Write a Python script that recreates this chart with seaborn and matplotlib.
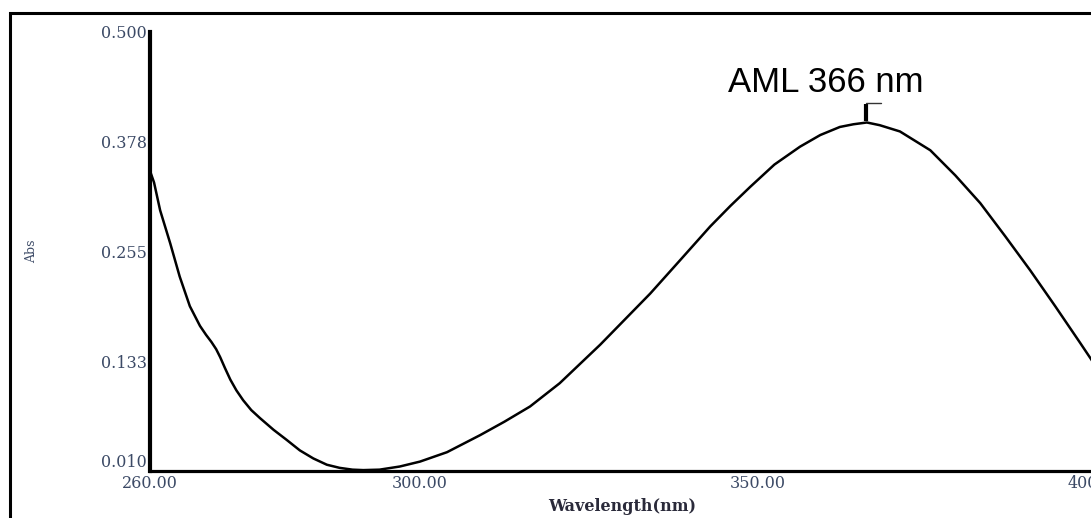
import numpy as np
import pandas as pd
import seaborn as sns
import matplotlib as mpl
from matplotlib import pyplot as plt
from matplotlib.patches import Rectangle

# absorbance spectrum
wavelength = [260.0, 260.6, 261.5, 263.0, 264.4, 265.9, 267.4, 268.3, 269.1, 269.8,
              270.4, 271.1, 271.9, 272.8, 273.8, 275.0, 276.3, 278.3, 280.2, 282.2,
              284.2, 286.2, 288.1, 290.0, 291.6, 294.0, 297.0, 300.0, 304.0, 308.9,
              312.5, 316.3, 320.7, 326.7, 334.1, 338.5, 343.0, 346.0, 348.9, 352.5,
              356.3, 359.3, 362.2, 364.2, 366.2, 368.1, 371.1, 375.6, 379.3, 383.0,
              386.7, 390.4, 394.1, 397.8, 399.4, 400.0]
absorbance = [0.345, 0.332, 0.301, 0.264, 0.227, 0.194, 0.172, 0.162, 0.154, 0.146,
              0.137, 0.125, 0.112, 0.100, 0.089, 0.078, 0.069, 0.056, 0.045, 0.033,
              0.024, 0.017, 0.0135, 0.0115, 0.0110, 0.0115, 0.015, 0.0205, 0.031, 0.050,
              0.065, 0.082, 0.108, 0.151, 0.208, 0.245, 0.283, 0.306, 0.327, 0.352,
              0.372, 0.385, 0.394, 0.397, 0.399, 0.396, 0.389, 0.368, 0.340, 0.309,
              0.272, 0.234, 0.194, 0.153, 0.135, 0.128]

x_ticks = [260, 300, 350, 400]
x_tick_labels = ['260.00', '300.00', '350.00', '400.00']
y_ticks = [0.010, 0.1325, 0.255, 0.3775, 0.500]
y_tick_labels = ['0.010', '0.133', '0.255', '0.378', '0.500']

peak_nm = 366.1
peak_label = 'AML 366 nm'

df = pd.DataFrame({'wavelength': wavelength, 'abs': absorbance})

sns.set_style('white')
tick_color = '#3c4a66'

W, H = 1091, 518
fig = plt.figure(figsize=(W / 100, H / 100), dpi=100)
ax = fig.add_axes([150 / W, 47 / H, 945 / W, 439 / H])

sns.lineplot(data=df, x='wavelength', y='abs', color='black', linewidth=1.8, ax=ax)

ax.set_xlim(260, 400)
ax.set_ylim(0.010, 0.500)
ax.set_xticks(x_ticks)
ax.set_xticklabels(x_tick_labels)
ax.set_yticks(y_ticks)
ax.set_yticklabels(y_tick_labels)

for lab in ax.get_xticklabels() + ax.get_yticklabels():
    lab.set_family('DejaVu Serif')
    lab.set_fontsize(11.5)
    lab.set_color(tick_color)
# lowest y label sits just above the x axis, as in the reference
ax.get_yticklabels()[0].set_va('bottom')

ax.tick_params(axis='y', direction='in', length=9, width=2.2, pad=2, color='black')
ax.tick_params(axis='x', direction='in', length=6, width=2.6, pad=3, color='black')

for side in ['top', 'right']:
    ax.spines[side].set_visible(False)
ax.spines['left'].set_linewidth(3.0)
ax.spines['bottom'].set_linewidth(2.3)
ax.spines['left'].set_color('black')
ax.spines['bottom'].set_color('black')

ax.set_xlabel('Wavelength(nm)', family='DejaVu Serif', fontsize=11.5,
              fontweight='bold', color='#2a2a3a', labelpad=4)
ax.set_ylabel('Abs', family='DejaVu Serif', fontsize=9, color=tick_color, labelpad=0)
ax.yaxis.set_label_coords(-112 / 945, 0.5)

# peak marker and annotation
ax.plot([peak_nm, peak_nm], [0.401, 0.420], color='black', linewidth=3, solid_capstyle='butt')
ax.plot([peak_nm, 368.3], [0.4205, 0.4205], color='#333333', linewidth=1)
ax.text(360.1, 0.433, peak_label, family='Liberation Sans', fontsize=25,
        ha='center', va='baseline', color='black')

# outer frame of the cropped figure
fig.patches.append(Rectangle((9.5 / W, -0.1), 1.2, (H - 13.5) / H + 0.1,
                             transform=fig.transFigure, fill=False,
                             edgecolor='black', linewidth=2.2))

plt.savefig('out.png', dpi=100)
plt.close()
